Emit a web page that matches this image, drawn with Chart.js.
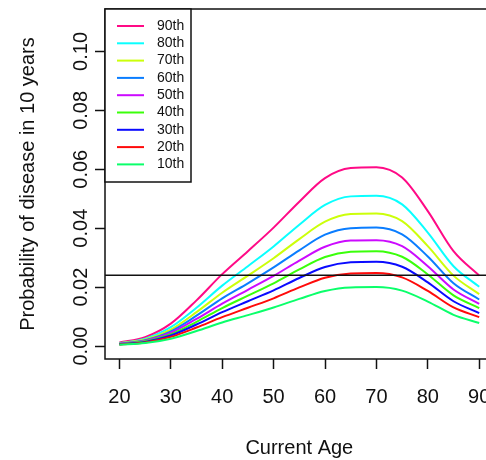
<!DOCTYPE html>
<html>
<head>
<meta charset="utf-8">
<script src="https://cdn.jsdelivr.net/npm/chart.js@4"></script>
<style>
  html, body { margin: 0; padding: 0; background: #fff; overflow: hidden; }
  #wrap { width: 486px; height: 460px; overflow: hidden; }
</style>
</head>
<body>
<div id="wrap"><canvas id="risk" width="495" height="460"></canvas></div>
<script>
// ── DATA ────────────────────────────────────────────────────────────────────
const ages = [20, 25, 30, 35, 40, 45, 50, 55, 60, 65, 70, 75, 80, 85, 90];

const p90 = [0.0012, 0.0030, 0.0076, 0.0155, 0.0244, 0.0322, 0.0402, 0.0490, 0.0570, 0.0604, 0.0607, 0.0572, 0.0458, 0.0322, 0.0239];
const p80 = [0.0010, 0.0025, 0.0064, 0.0130, 0.0205, 0.0271, 0.0338, 0.0412, 0.0479, 0.0508, 0.0510, 0.0481, 0.0385, 0.0271, 0.0201];
const p70 = [0.0009, 0.0022, 0.0056, 0.0115, 0.0181, 0.0239, 0.0298, 0.0363, 0.0422, 0.0448, 0.0450, 0.0424, 0.0339, 0.0239, 0.0176];
const p60 = [0.0008, 0.0020, 0.0050, 0.0103, 0.0162, 0.0213, 0.0267, 0.0325, 0.0378, 0.0400, 0.0402, 0.0379, 0.0304, 0.0213, 0.0158];
const p50 = [0.0007, 0.0018, 0.0045, 0.0092, 0.0144, 0.0191, 0.0238, 0.0290, 0.0337, 0.0358, 0.0359, 0.0339, 0.0271, 0.0192, 0.0143];
const p40 = [0.0006, 0.0016, 0.0040, 0.0082, 0.0129, 0.0171, 0.0213, 0.0260, 0.0302, 0.0320, 0.0322, 0.0303, 0.0243, 0.0172, 0.0129];
const p30 = [0.0006, 0.0014, 0.0036, 0.0073, 0.0115, 0.0152, 0.0189, 0.0231, 0.0268, 0.0284, 0.0286, 0.0269, 0.0216, 0.0152, 0.0112];
const p20 = [0.0005, 0.0012, 0.0031, 0.0063, 0.0098, 0.0130, 0.0162, 0.0199, 0.0232, 0.0246, 0.0248, 0.0233, 0.0187, 0.0131, 0.0098];
const p10 = [0.0004, 0.0010, 0.0025, 0.0051, 0.0080, 0.0105, 0.0131, 0.0160, 0.0187, 0.0199, 0.0200, 0.0188, 0.0151, 0.0106, 0.0078];

const seriesLabels = ['90th', '80th', '70th', '60th', '50th', '40th', '30th', '20th', '10th'];
const seriesValues = [p90, p80, p70, p60, p50, p40, p30, p20, p10];
const seriesColors = ['#ff0a86', '#0affff', '#ccff0a', '#0a7dff', '#cc0aff', '#3aff0a', '#0a0aff', '#ff0a0a', '#0aff6a'];

const xTicks = [20, 30, 40, 50, 60, 70, 80, 90];
const yTicks = [0.00, 0.02, 0.04, 0.06, 0.08, 0.10];
const yTickLabels = ['0.00', '0.02', '0.04', '0.06', '0.08', '0.10'];

// reference level drawn across the whole plot
const threshold = 0.024;

// ── STYLE ───────────────────────────────────────────────────────────────────
const FONT = "'Liberation Sans', Arial, Helvetica, sans-serif";
const INK = '#111';

// R-style frame, abline, rotated y labels and boxed legend
const framePlugin = {
  id: 'frame',
  afterDatasetsDraw(chart) {
    const { ctx, chartArea: a, scales: { y } } = chart;
    ctx.save();
    ctx.strokeStyle = INK;
    ctx.lineWidth = 1.5;

    // horizontal reference line
    const hy = y.getPixelForValue(threshold);
    ctx.beginPath();
    ctx.moveTo(a.left, hy);
    ctx.lineTo(a.right, hy);
    ctx.stroke();

    // plot box
    ctx.strokeRect(a.left, a.top, a.right - a.left, a.bottom - a.top);

    // y tick labels, parallel to the axis
    ctx.fillStyle = INK;
    ctx.font = `20px ${FONT}`;
    ctx.textAlign = 'center';
    ctx.textBaseline = 'middle';
    yTicks.forEach((v, i) => {
      const py = y.getPixelForValue(v);
      ctx.save();
      ctx.translate(a.left - 24, py);
      ctx.rotate(-Math.PI / 2);
      ctx.fillText(yTickLabels[i], 0, 0);
      ctx.restore();
    });

    // legend, top-left corner
    const lx = a.left, ly = a.top, lw = 86, lh = 173, rowH = 17.3;
    ctx.fillStyle = '#fff';
    ctx.fillRect(lx, ly, lw, lh);
    ctx.strokeRect(lx, ly, lw, lh);
    ctx.font = `14px ${FONT}`;
    ctx.textAlign = 'left';
    seriesLabels.forEach((label, i) => {
      const ry = ly + 17 + i * rowH;
      ctx.strokeStyle = seriesColors[i];
      ctx.lineWidth = 2;
      ctx.beginPath();
      ctx.moveTo(lx + 12, ry);
      ctx.lineTo(lx + 39, ry);
      ctx.stroke();
      ctx.fillStyle = INK;
      ctx.fillText(label, lx + 52, ry);
    });
    ctx.restore();
  }
};

const datasets = seriesLabels.map((label, i) => ({
  label,
  data: ages.map((a, j) => ({ x: a, y: seriesValues[i][j] })),
  borderColor: seriesColors[i],
  borderWidth: 2,
  pointRadius: 0,
  cubicInterpolationMode: 'monotone',
  fill: false,
})).reverse();

new Chart(document.getElementById('risk'), {
  type: 'line',
  data: { datasets },
  plugins: [framePlugin],
  options: {
    responsive: false,
    animation: false,
    layout: { padding: { top: 9, right: 1.4, bottom: 0, left: 0 } },
    plugins: {
      legend: { display: false },
      tooltip: { enabled: false },
    },
    scales: {
      x: {
        type: 'linear',
        min: 17.2,
        max: 92.8,
        afterBuildTicks: (s) => { s.ticks = xTicks.map(v => ({ value: v })); },
        afterFit: (s) => {
          s.height = 101;
          s.paddingLeft = 0;
          s.paddingRight = 0;
        },
        border: { display: false },
        grid: {
          drawOnChartArea: false,
          drawTicks: true,
          tickLength: 10,
          tickWidth: 1.5,
          tickColor: INK,
        },
        ticks: {
          color: INK,
          padding: 16,
          maxRotation: 0,
          font: { family: FONT, size: 20 },
          callback: (v) => String(v),
        },
        title: {
          display: true,
          text: 'Current Age',
          color: INK,
          font: { family: FONT, size: 20 },
          padding: { top: 0, bottom: 0 },
        },
      },
      y: {
        type: 'linear',
        min: -0.0044,
        max: 0.1144,
        afterBuildTicks: (s) => { s.ticks = yTicks.map(v => ({ value: v })); },
        afterFit: (s) => {
          s.width = 105;
          s.paddingTop = 0;
          s.paddingBottom = 0;
        },
        border: { display: false },
        grid: {
          drawOnChartArea: false,
          drawTicks: true,
          tickLength: 10,
          tickWidth: 1.5,
          tickColor: INK,
        },
        ticks: { display: false },
        title: {
          display: true,
          text: 'Probability of disease in 10 years',
          color: INK,
          font: { family: FONT, size: 20 },
          padding: { top: 16, bottom: 0 },
        },
      },
    },
  },
});
</script>
</body>
</html>
